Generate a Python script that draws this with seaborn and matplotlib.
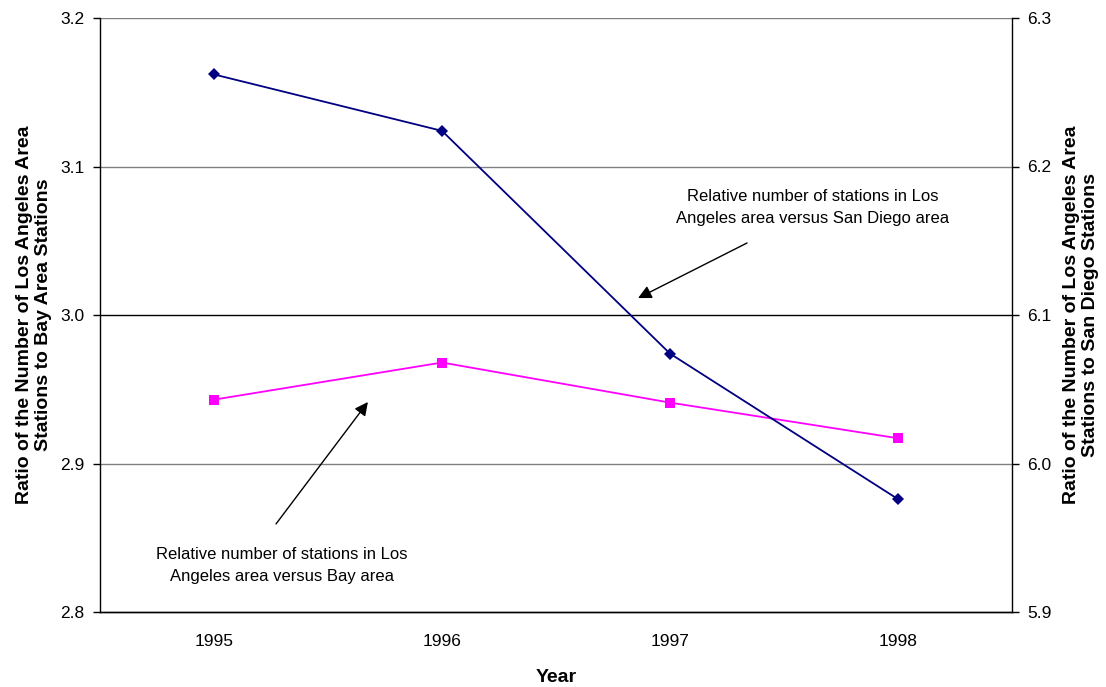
import matplotlib
matplotlib.use("Agg")
import matplotlib.pyplot as plt
import seaborn as sns
import pandas as pd

# Chart data
years = ["1995", "1996", "1997", "1998"]
la_to_bay = [2.943, 2.968, 2.941, 2.917]
la_to_sd = [6.262, 6.224, 6.074, 5.976]

df = pd.DataFrame({"Year": years, "Bay": la_to_bay, "SanDiego": la_to_sd})

sns.set_style("white")
plt.rcParams['font.family'] = ['Liberation Sans', 'DejaVu Sans']
plt.rcParams['text.color'] = 'black'
plt.rcParams['axes.labelcolor'] = 'black'
plt.rcParams['xtick.color'] = 'black'
plt.rcParams['ytick.color'] = 'black'

fig = plt.figure(figsize=(11.06, 6.87), dpi=100)
ax = fig.add_axes([100 / 1106, 1 - 612 / 687, 912 / 1106, 594 / 687])

sns.lineplot(data=df, x="Year", y="Bay", ax=ax, color="#ff00ff", marker="s",
             markersize=7, markeredgewidth=0, linewidth=1.3, sort=False)
ax.set_xlim(-0.5, 3.5)
ax.set_ylim(2.8, 3.2)
ax.set_yticks([2.8, 2.9, 3.0, 3.1, 3.2])
ax.set_yticklabels(["2.8", "2.9", "3.0", "3.1", "3.2"])
for v in [2.9, 3.1, 3.2]:
    ax.axhline(v, color="#808080", linewidth=1, zorder=0)
ax.axhline(3.0, color="black", linewidth=1, zorder=0)

ax2 = ax.twinx()
sns.lineplot(data=df, x="Year", y="SanDiego", ax=ax2, color="#000080", marker="D",
             markersize=6, markeredgewidth=0, linewidth=1.3, sort=False)
ax2.set_ylim(5.9, 6.3)
ax2.set_yticks([5.9, 6.0, 6.1, 6.2, 6.3])
ax2.set_yticklabels(["5.9", "6.0", "6.1", "6.2", "6.3"])

# x ticks: labels at centers, tick marks between categories
ax.set_xticks([0, 1, 2, 3])
ax.set_xticks([-0.5, 0.5, 1.5, 2.5, 3.5], minor=True)
ax.tick_params(axis="x", which="major", length=0, labelsize=12.5, pad=16)
ax.tick_params(axis="x", which="minor", length=6, width=1, color="black", direction="out")
ax.tick_params(axis="y", length=5, width=1, color="black", direction="out", labelsize=12.5, pad=6)
ax2.tick_params(axis="y", length=5, width=1, color="black", direction="out", labelsize=12.5, pad=6)

for a in (ax, ax2):
    a.spines["top"].set_visible(False)
    for s in ("left", "right", "bottom"):
        a.spines[s].set_color("black")
        a.spines[s].set_linewidth(1)
ax2.spines["left"].set_visible(False)
ax.spines["right"].set_visible(False)

ax.set_xlabel("Year", fontsize=14, fontweight="bold", labelpad=14)
ax.set_ylabel("Ratio of the Number of Los Angeles Area\nStations to Bay Area Stations",
              fontsize=14, fontweight="bold", labelpad=6, linespacing=1.2)
ax2.set_ylabel("Ratio of the Number of Los Angeles Area\nStations to San Diego Stations",
               fontsize=14, fontweight="bold", labelpad=8, rotation=90, linespacing=1.2)
ax2.yaxis.set_label_position("right")

# Annotations
ax.text(2.627, 3.085, "Relative number of stations in Los\nAngeles area versus San Diego area",
        ha="center", va="top", fontsize=12, linespacing=1.6)
ax.annotate("", xy=(1.86, 3.0114), xytext=(2.338, 3.0485),
            arrowprops=dict(arrowstyle="-|>", color="black", lw=1, mutation_scale=20,
                            shrinkA=0, shrinkB=0))
ax.text(0.298, 2.844, "Relative number of stations in Los\nAngeles area versus Bay area",
        ha="center", va="top", fontsize=12, linespacing=1.6)
ax.annotate("", xy=(0.675, 2.9414), xytext=(0.272, 2.8593),
            arrowprops=dict(arrowstyle="-|>", color="black", lw=1, mutation_scale=20,
                            shrinkA=0, shrinkB=0))

fig.savefig("out.png", dpi=100)
